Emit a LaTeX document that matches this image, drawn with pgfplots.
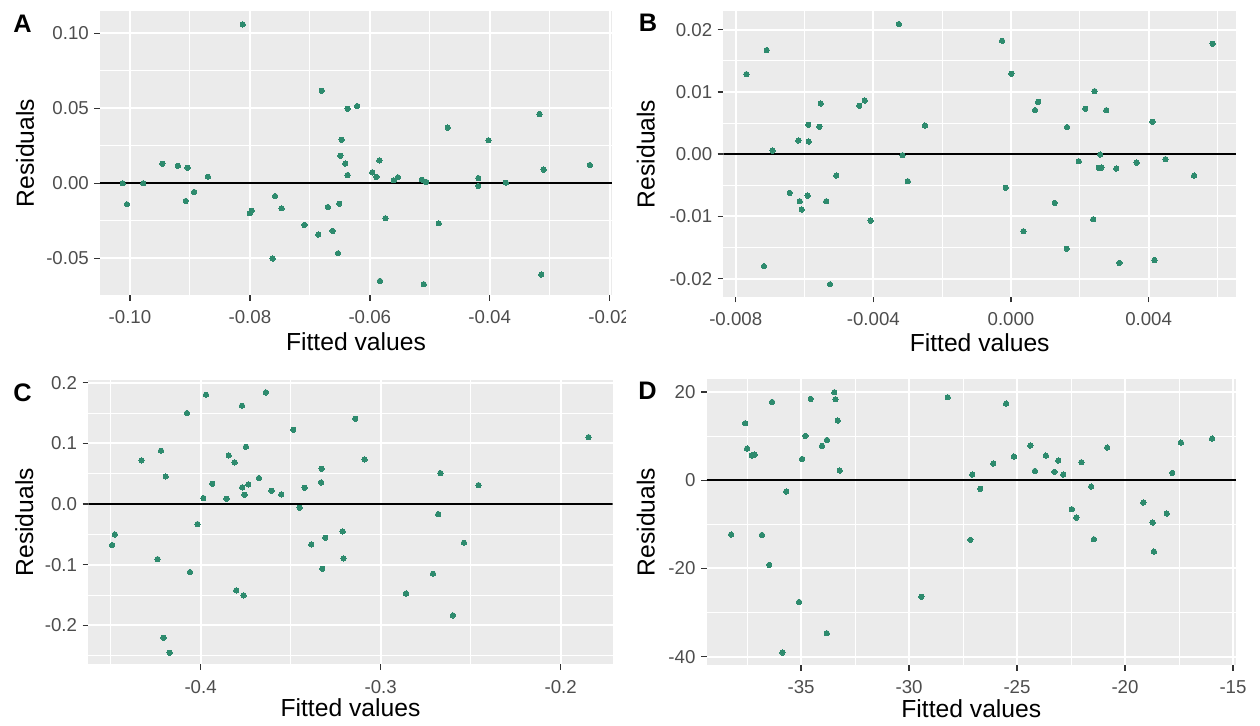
\documentclass[border=0pt]{standalone}
\usepackage{pgfplots}
\pgfplotsset{compat=1.18}
\usepackage{fontspec}
\setmainfont{Liberation Sans}
\definecolor{panelbg}{HTML}{EBEBEB}
\definecolor{tickgray}{HTML}{333333}
\definecolor{labgray}{HTML}{4D4D4D}
\definecolor{pt}{HTML}{2E8B6E}
\pgfplotsset{
  gg/.style={
    scale only axis,
    scaled ticks=false,
    axis background/.style={fill=panelbg},
    axis line style={draw=none},
    grid=both,
    major grid style={white, line width=1.4pt},
    minor grid style={white, line width=0.7pt},
    tick style={color=tickgray, line width=1.1pt},
    major tick length=4.2pt,
    minor tick length=0pt,
    tick align=outside,
    xtick pos=left, ytick pos=left,
    xticklabel style={anchor=center, inner sep=0pt, yshift=-12.6pt, font=\fontsize{14}{16}\selectfont, text=labgray},
    yticklabel style={anchor=east, inner sep=0pt, xshift=-4pt, font=\fontsize{14}{16}\selectfont, text=labgray},
    xlabel={Fitted values}, ylabel={Residuals},
    label style={font=\fontsize{18.5}{22}\selectfont, text=black},
  },
  pts/.style={only marks, mark=*, mark size=2pt, color=pt, mark options={draw=pt, fill=pt, line width=0pt}},
  zl/.style={black, line width=1.3pt, no markers},
}
\begin{document}
\begin{tikzpicture}
\path (0,0) rectangle (945pt,543.75pt);
% Panel A
\begin{scope}
\clip (0,0) rectangle (468.75pt,543.75pt);
\begin{axis}[gg, at={(75pt,322.5pt)}, anchor=south west, width=384pt, height=213pt,
  xmin=-0.105, xmax=-0.0196, ymin=-0.0745, ymax=0.1149,
  xtick={-0.10,-0.08,-0.06,-0.04,-0.02}, xticklabels={-0.10,-0.08,-0.06,-0.04,-0.02},
  minor xtick={-0.09,-0.07,-0.05,-0.03},
  ytick={-0.05,0,0.05,0.10}, yticklabels={-0.05,0.00,0.05,0.10},
  minor ytick={-0.025,0.025,0.075},
  xlabel style={at={(axis description cs:0.5,-0.166)}, anchor=center},
  ylabel style={at={(axis description cs:-0.1465,0.5)}, anchor=center}]
\addplot[zl] coordinates {(-0.105,0) (-0.0196,0)};
\addplot[pts] table {
-0.1012 0.000
-0.1005 -0.014
-0.0978 0.000
-0.0946 0.013
-0.0920 0.0117
-0.0904 0.0104
-0.0907 -0.0118
-0.0893 -0.0058
-0.0870 0.0044
-0.0812 0.106
-0.0800 -0.020
-0.0797 -0.0183
-0.0758 -0.0085
-0.0747 -0.0167
-0.0762 -0.0502
-0.0709 -0.0278
-0.0686 -0.0342
-0.0680 0.0617
-0.0637 0.0497
-0.0621 0.0515
-0.0647 0.029
-0.0649 0.0184
-0.0641 0.0131
-0.0637 0.0055
-0.0670 -0.0158
-0.0651 -0.0136
-0.0662 -0.0318
-0.0653 -0.0467
-0.0584 0.0153
-0.0596 0.0073
-0.0589 0.0042
-0.0574 -0.0233
-0.0583 -0.0651
-0.0560 0.002
-0.0553 0.004
-0.0513 0.0024
-0.0506 0.0009
-0.0510 -0.0673
-0.0485 -0.0267
-0.0470 0.0371
-0.0419 0.0035
-0.0419 -0.0018
-0.0402 0.0287
-0.0373 0.0004
-0.0317 0.0462
-0.0310 0.0091
-0.0314 -0.0609
-0.0233 0.0122
};
\end{axis}
\end{scope}
% Panel B
\begin{axis}[gg, at={(542.5pt,321.2pt)}, anchor=south west, width=384.5pt, height=214.3pt,
  xmin=-0.00836, xmax=0.00654, ymin=-0.0229, ymax=0.0230,
  xtick={-0.008,-0.004,0,0.004}, xticklabels={-0.008,-0.004,0.000,0.004},
  minor xtick={-0.006,-0.002,0.002,0.006},
  ytick={-0.02,-0.01,0,0.01,0.02}, yticklabels={-0.02,-0.01,0.00,0.01,0.02},
  minor ytick={-0.015,-0.005,0.005,0.015},
  xlabel style={at={(axis description cs:0.5,-0.162)}, anchor=center},
  ylabel style={at={(axis description cs:-0.151,0.5)}, anchor=center}]
\addplot[zl] coordinates {(-0.00836,0) (0.00654,0)};
\addplot[pts] table {
-0.00769 0.01286
-0.00710 0.01672
-0.00693 0.00058
-0.00718 -0.0180
-0.00643 -0.00622
-0.00618 0.00219
-0.00614 -0.00756
-0.00608 -0.0089
-0.00589 0.00471
-0.00588 0.00203
-0.00591 -0.00666
-0.00557 0.00439
-0.00553 0.00814
-0.00537 -0.00756
-0.00526 -0.0209
-0.00508 -0.00344
-0.00441 0.00777
-0.00425 0.00862
-0.00408 -0.01067
-0.00326 0.0209
-0.00315 -0.00016
-0.00300 -0.00434
-0.00250 0.0046
-0.00026 0.01822
0.00001 0.0129
-0.00015 -0.0054
0.00036 -0.01238
0.00070 0.00707
0.00079 0.0084
0.00127 -0.00783
0.00163 0.00434
0.00162 -0.01518
0.00197 -0.00113
0.00216 0.00728
0.00243 0.01013
0.00239 -0.01045
0.00259 -0.00006
0.00255 -0.0022
0.00263 -0.00215
0.00277 0.00707
0.00306 -0.00231
0.00315 -0.01748
0.00365 -0.00135
0.00411 0.00519
0.00417 -0.0170
0.00449 -0.0008
0.00532 -0.00344
0.00586 0.01773
};
\end{axis}
% Panel C
\begin{axis}[gg, at={(66.2pt,45.5pt)}, anchor=south west, width=393.3pt, height=213.2pt,
  xmin=-0.4624, xmax=-0.1711, ymin=-0.2642, ymax=0.2044,
  xtick={-0.4,-0.3,-0.2}, xticklabels={-0.4,-0.3,-0.2},
  minor xtick={-0.45,-0.35,-0.25},
  ytick={-0.2,-0.1,0,0.1,0.2}, yticklabels={-0.2,-0.1,0.0,0.1,0.2},
  minor ytick={-0.25,-0.15,-0.05,0.05,0.15},
  xlabel style={at={(axis description cs:0.5,-0.152)}, anchor=center},
  ylabel style={at={(axis description cs:-0.122,0.5)}, anchor=center}]
\addplot[zl] coordinates {(-0.4624,0) (-0.1711,0)};
\addplot[pts] table {
-0.4491 -0.0676
-0.4476 -0.050
-0.4328 0.072
-0.4220 0.0879
-0.4194 0.0456
-0.4239 -0.0907
-0.4206 -0.2203
-0.4172 -0.245
-0.4076 0.150
-0.4059 -0.1121
-0.4017 -0.033
-0.3985 0.0099
-0.3970 0.1802
-0.3935 0.0335
-0.3856 0.0088
-0.3844 0.0802
-0.3811 0.0687
-0.3802 -0.1423
-0.3770 0.1621
-0.3769 0.0275
-0.3761 -0.1505
-0.3756 0.0154
-0.3748 0.0945
-0.3735 0.0324
-0.3676 0.0429
-0.3637 0.1841
-0.3606 0.022
-0.3552 0.0159
-0.3485 0.1225
-0.3450 -0.006
-0.3422 0.0269
-0.3385 -0.0665
-0.3331 0.0357
-0.3328 0.0582
-0.3324 -0.1066
-0.3308 -0.0555
-0.3211 -0.0451
-0.3206 -0.0896
-0.3141 0.1407
-0.3089 0.0736
-0.2859 -0.1473
-0.2709 -0.1148
-0.2680 -0.0165
-0.2668 0.0511
-0.2598 -0.1835
-0.2537 -0.0637
-0.2456 0.0313
-0.1845 0.1104
};
\end{axis}
% Panel D
\begin{axis}[gg, at={(530pt,45pt)}, anchor=south west, width=397pt, height=214.3pt,
  xmin=-39.37, xmax=-14.86, ymin=-41.9, ymax=22.9,
  xtick={-35,-30,-25,-20,-15}, xticklabels={-35,-30,-25,-20,-15},
  minor xtick={-37.5,-32.5,-27.5,-22.5,-17.5},
  ytick={-40,-20,0,20}, yticklabels={-40,-20,0,20},
  minor ytick={-30,-10,10},
  xlabel style={at={(axis description cs:0.5,-0.152)}, anchor=center},
  ylabel style={at={(axis description cs:-0.115,0.5)}, anchor=center}]
\addplot[zl] coordinates {(-39.37,0) (-14.86,0)};
\addplot[pts] table {
-38.24 -12.32
-37.59 12.92
-37.50 7.18
-37.28 5.59
-37.15 5.82
-36.81 -12.4
-36.47 -19.2
-36.34 17.76
-35.69 -2.57
-35.86 -39.08
-35.09 -27.59
-34.95 4.84
-34.80 10.05
-34.55 18.44
-34.03 7.79
-33.80 9.15
-33.81 -34.69
-33.46 19.95
-33.41 18.37
-33.30 13.53
-33.21 2.19
-29.43 -26.45
-28.21 18.82
-27.16 -13.53
-27.07 1.28
-26.70 -1.96
-26.10 3.78
-25.51 17.38
-25.14 5.37
-24.38 7.86
-24.17 2.12
-23.66 5.59
-23.27 1.89
-23.09 4.46
-22.86 1.28
-22.46 -6.58
-22.25 -8.47
-22.02 4.08
-21.57 -1.44
-21.44 -13.38
-20.83 7.41
-19.15 -5.06
-18.72 -9.6
-18.66 -16.18
-18.07 -7.56
-17.81 1.66
-17.41 8.54
-15.97 9.45
};
\end{axis}
\node[font=\bfseries\fontsize{19}{22}\selectfont] at (16.9pt,525.75pt) {A};
\node[font=\bfseries\fontsize{19}{22}\selectfont] at (486pt,526.5pt) {B};
\node[font=\bfseries\fontsize{19}{22}\selectfont] at (16.9pt,249.4pt) {C};
\node[font=\bfseries\fontsize{19}{22}\selectfont] at (485.6pt,250.5pt) {D};
\end{tikzpicture}
\end{document}
